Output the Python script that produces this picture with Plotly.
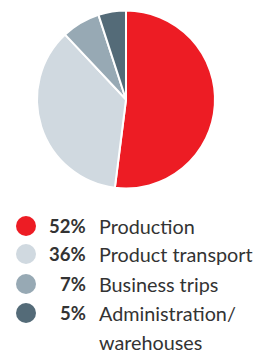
import plotly.graph_objects as go

categories = ["Production", "Product transport", "Business trips", "Administration/<br>warehouses"]
values = [52, 36, 7, 5]
colors = ["#ED1C24", "#D0D9E0", "#97A9B4", "#546B78"]

W, H = 267, 355
row_y = [226, 254, 284, 313]
line_gap = 29

fig = go.Figure()
fig.add_trace(go.Pie(
    labels=categories, values=values, sort=False, direction="clockwise", rotation=0,
    marker=dict(colors=colors, line=dict(color="white", width=2)),
    textinfo="none", hoverinfo="label+percent",
    domain=dict(x=[37 / W, 215 / W], y=[1 - 189 / H, 1 - 10 / H]),
    showlegend=False,
))

fig.add_trace(go.Scatter(
    x=[26] * len(categories), y=row_y, mode="markers",
    marker=dict(size=20, color=colors, line=dict(width=0)),
    xaxis="x", yaxis="y", showlegend=False, hoverinfo="skip",
))

label_font = dict(family="Lato, sans-serif", size=19.8, color="#333333")
pct_font = dict(family="Lato, sans-serif", size=18.5, color="#333333")
for yv, v, c in zip(row_y, values, categories):
    fig.add_annotation(x=88, y=yv, xref="x", yref="y", text=f"<b>{v}%</b>",
                       xanchor="right", yanchor="middle", showarrow=False, font=pct_font)
    for i, part in enumerate(c.split("<br>")):
        fig.add_annotation(x=97, y=yv + i * line_gap, xref="x", yref="y", text=part,
                           xanchor="left", yanchor="middle", showarrow=False, font=label_font)

fig.update_layout(
    width=W, height=H, margin=dict(l=0, r=0, t=0, b=0),
    paper_bgcolor="white", plot_bgcolor="white",
    xaxis=dict(range=[0, W], visible=False, domain=[0, 1], fixedrange=True),
    yaxis=dict(range=[H, 0], visible=False, domain=[0, 1], fixedrange=True),
)
fig.write_html("out.html", config={"displayModeBar": False},
               post_script="document.body.style.margin='0';document.body.style.overflow='hidden';")
